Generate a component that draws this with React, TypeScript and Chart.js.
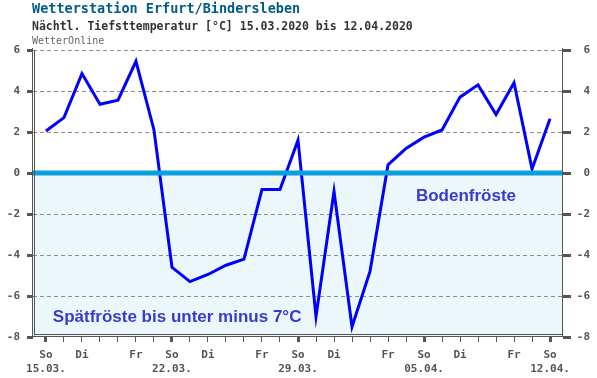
import { useEffect, useRef } from 'react';
import { Chart, registerables } from 'chart.js';

Chart.register(...registerables);

const titleText = 'Wetterstation Erfurt/Bindersleben';
const subtitleText = 'Nächtl. Tiefsttemperatur [°C] 15.03.2020 bis 12.04.2020';
const sourceText = 'WetterOnline';
const frostGroundText = 'Bodenfröste';
const frostLateText = 'Spätfröste bis unter minus 7°C';

const dates = [
  '15.03.', '16.03.', '17.03.', '18.03.', '19.03.', '20.03.', '21.03.',
  '22.03.', '23.03.', '24.03.', '25.03.', '26.03.', '27.03.', '28.03.',
  '29.03.', '30.03.', '31.03.', '01.04.', '02.04.', '03.04.', '04.04.',
  '05.04.', '06.04.', '07.04.', '08.04.', '09.04.', '10.04.', '11.04.',
  '12.04.',
];
const weekdays = [
  'So', 'Mo', 'Di', 'Mi', 'Do', 'Fr', 'Sa',
  'So', 'Mo', 'Di', 'Mi', 'Do', 'Fr', 'Sa',
  'So', 'Mo', 'Di', 'Mi', 'Do', 'Fr', 'Sa',
  'So', 'Mo', 'Di', 'Mi', 'Do', 'Fr', 'Sa',
  'So',
];
const shownWeekdays = ['So', 'Di', 'Fr'];
const minTemps = [
  2.05, 2.7, 4.85, 3.35, 3.55, 5.45, 2.1,
  -4.6, -5.3, -4.95, -4.5, -4.2, -0.8, -0.8,
  1.6, -7.0, -0.9, -7.5, -4.8, 0.4, 1.2,
  1.75, 2.1, 3.7, 4.3, 2.85, 4.4, 0.2,
  2.65,
];
const yTicks = [6, 4, 2, 0, -2, -4, -6, -8];

const tickFont = { family: '"DejaVu Sans Mono", monospace', size: 11, weight: 'bold' as const, lineHeight: 1.0 };
const xTickFont = { family: '"DejaVu Sans Mono", monospace', size: 11, weight: 'bold' as const, lineHeight: 1.27 };

const decorPlugin = {
  id: 'decor',
  beforeDraw(chart: any) {
    const { ctx, chartArea: a, scales } = chart;
    const y0 = scales.y.getPixelForValue(0);
    const yMin = scales.y.getPixelForValue(-8);
    ctx.save();
    ctx.fillStyle = '#ffffff';
    ctx.fillRect(0, 0, chart.width, chart.height);
    ctx.fillStyle = '#ecf7fb';
    ctx.fillRect(a.left, y0, a.right - a.left, yMin - y0);
    ctx.textAlign = 'left';
    ctx.textBaseline = 'alphabetic';
    ctx.fillStyle = '#005a8a';
    ctx.font = 'bold 13.5px "DejaVu Sans Mono", monospace';
    ctx.fillText(titleText, 32, 13);
    ctx.fillStyle = '#333333';
    ctx.font = 'bold 11.5px "DejaVu Sans Mono", monospace';
    ctx.fillText(subtitleText, 32, 30);
    ctx.fillStyle = '#666666';
    ctx.font = '10px "DejaVu Sans Mono", monospace';
    ctx.fillText(sourceText, 32, 44);
    ctx.restore();
  },
  afterDatasetsDraw(chart: any) {
    const { ctx, chartArea: a, scales } = chart;
    const y0 = scales.y.getPixelForValue(0);
    ctx.save();
    ctx.strokeStyle = '#0aa0e0';
    ctx.lineWidth = 5;
    ctx.beginPath();
    ctx.moveTo(a.left, y0);
    ctx.lineTo(a.right, y0);
    ctx.stroke();
    ctx.fillStyle = '#3a3ad0';
    ctx.font = 'bold 17px "Liberation Sans", Arial, sans-serif';
    ctx.textAlign = 'left';
    ctx.textBaseline = 'alphabetic';
    ctx.fillText(frostGroundText, scales.x.getPixelForValue(20.55), scales.y.getPixelForValue(-1.35));
    ctx.fillText(frostLateText, scales.x.getPixelForValue(0.38), scales.y.getPixelForValue(-7.25));
    ctx.restore();
  },
  afterDraw(chart: any) {
    const { ctx, chartArea: a } = chart;
    ctx.save();
    ctx.strokeStyle = '#555555';
    ctx.lineWidth = 1;
    ctx.beginPath();
    ctx.moveTo(a.left - 0.5, a.top - 2);
    ctx.lineTo(a.left - 0.5, a.bottom + 0.5);
    ctx.moveTo(a.left + 1.5, a.top);
    ctx.lineTo(a.left + 1.5, a.bottom - 1.5);
    ctx.moveTo(a.left - 0.5, a.bottom - 0.5);
    ctx.lineTo(a.right, a.bottom - 0.5);
    ctx.moveTo(a.left + 1.5, a.bottom - 2.5);
    ctx.lineTo(a.right - 1, a.bottom - 2.5);
    ctx.moveTo(a.right - 0.5, a.top - 2);
    ctx.lineTo(a.right - 0.5, a.bottom);
    ctx.stroke();
    ctx.restore();
  },
};

export default function App() {
  const ref = useRef<HTMLCanvasElement | null>(null);

  useEffect(() => {
    if (!ref.current) return;
    const points = minTemps.map((v, i) => ({ x: i, y: v }));
    const chart = new Chart(ref.current, {
      type: 'line',
      data: {
        datasets: [
          {
            data: points,
            borderColor: '#0000ff',
            borderWidth: 3,
            pointRadius: 0,
            tension: 0,
            fill: false,
            xAxisID: 'x',
            yAxisID: 'y',
          },
        ],
      },
      options: {
        animation: false,
        responsive: false,
        devicePixelRatio: 1,
        layout: { padding: { top: 50, right: 7, left: 0, bottom: 0 } },
        plugins: { legend: { display: false }, tooltip: { enabled: false }, title: { display: false } },
        scales: {
          x: {
            type: 'linear',
            position: 'bottom',
            min: -0.72,
            max: 28.72,
            afterBuildTicks: (s: any) => {
              s.ticks = dates.map((_, i) => ({ value: i }));
            },
            afterFit: (s: any) => {
              s.height = 41;
            },
            grid: {
              drawOnChartArea: false,
              drawTicks: true,
              tickLength: 5,
              tickColor: '#555555',
              tickWidth: (c: any) => (c.tick && weekdays[c.tick.value] === 'So' ? 3 : 1),
            },
            border: { display: false },
            ticks: {
              autoSkip: false,
              maxRotation: 0,
              minRotation: 0,
              padding: 6,
              color: '#555555',
              font: xTickFont,
              callback: (v: any) => {
                const i = Number(v);
                const wd = weekdays[i];
                if (wd === 'So') return [wd, dates[i]];
                if (shownWeekdays.includes(wd)) return wd;
                return '';
              },
            },
          },
          y: {
            type: 'linear',
            position: 'left',
            min: -8,
            max: 6,
            afterBuildTicks: (s: any) => {
              s.ticks = yTicks.map((v) => ({ value: v }));
            },
            afterFit: (s: any) => {
              s.width = 33;
            },
            grid: {
              drawOnChartArea: true,
              color: (c: any) => (c.tick && (c.tick.value === 0 || c.tick.value === -8) ? 'rgba(0,0,0,0)' : '#8c8c8c'),
              lineWidth: 1,
              tickLength: 6,
              tickWidth: 3,
              tickColor: '#555555',
              tickBorderDash: [],
            },
            border: { display: false, dash: [4, 3] },
            ticks: {
              padding: 7,
              color: '#555555',
              font: tickFont,
              callback: (v: any) => String(v),
            },
          },
          y2: {
            type: 'linear',
            position: 'right',
            min: -8,
            max: 6,
            afterBuildTicks: (s: any) => {
              s.ticks = yTicks.map((v) => ({ value: v }));
            },
            afterFit: (s: any) => {
              s.width = 27;
            },
            grid: {
              drawOnChartArea: false,
              tickLength: 8,
              tickWidth: 3,
              tickColor: '#555555',
            },
            border: { display: false },
            ticks: {
              padding: 6,
              crossAlign: 'far',
              color: '#555555',
              font: tickFont,
              callback: (v: any) => String(v),
            },
          },
        },
      },
      plugins: [decorPlugin],
    } as any);
    return () => chart.destroy();
  }, []);

  return (
    <div style={{ position: 'absolute', left: 0, top: 0, width: 597, height: 378 }}>
      <canvas ref={ref} width={597} height={378} />
    </div>
  );
}
